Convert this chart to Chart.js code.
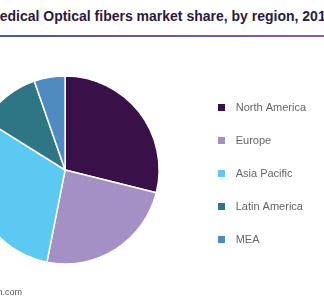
<!DOCTYPE html>
<html>
<head>
<meta charset="utf-8">
<script src="https://cdn.jsdelivr.net/npm/chart.js@4"></script>
<style>
  html, body { margin: 0; padding: 0; background: #fff; }
  body { width: 324px; height: 300px; position: relative; overflow: hidden; font-family: Arial, "Liberation Sans", sans-serif; }
  #title { position: absolute; left: -12px; top: 8px; white-space: nowrap; font-weight: bold; font-size: 14px; color: #2a1b3d; }
  #rule { position: absolute; left: 0; top: 35px; width: 324px; height: 2px; background: linear-gradient(to right, #4a56a6, #8a5ca9); }
  #wrap { position: absolute; left: -60px; top: 40px; width: 376px; height: 260px; }
  #source { position: absolute; right: 302px; top: 287px; white-space: nowrap; font-size: 9px; color: #555; }
</style>
</head>
<body>
<div id="title">Medical Optical fibers market share, by region, 2018</div>
<div id="rule"></div>
<div id="wrap"><canvas id="chart"></canvas></div>
<div id="source">Source: www.grandviewresearch.com</div>
<script>
// regions and share (%)
const regions = ["North America", "Europe", "Asia Pacific", "Latin America", "MEA"];
const shares = [28.9, 24.2, 30.8, 10.8, 5.3];
const colors = ["#3a1049", "#a590c5", "#5bc9f2", "#2e7585", "#4f8bc0"];

// small square swatch used as legend marker
function swatch(color) {
  const c = document.createElement("canvas");
  c.width = 7;
  c.height = 7;
  const g = c.getContext("2d");
  g.fillStyle = color;
  g.fillRect(0, 0, 7, 7);
  return c;
}

new Chart(document.getElementById("chart"), {
  type: "pie",
  data: {
    labels: regions,
    datasets: [{
      data: shares,
      backgroundColor: colors,
      borderColor: "#ffffff",
      borderWidth: 1.5,
      radius: 94
    }]
  },
  options: {
    responsive: true,
    maintainAspectRatio: false,
    animation: false,
    layout: { padding: 0 },
    plugins: {
      tooltip: { enabled: false },
      title: { display: false },
      legend: {
        position: "right",
        align: "center",
        // empty title just pushes the items down a few px
        title: { display: true, text: " ", padding: 0, font: { size: 7, lineHeight: 1 } },
        labels: {
          usePointStyle: true,
          pointStyleWidth: 18,
          boxHeight: 7,
          padding: 22,
          color: "#333",
          font: { family: "Arial, 'Liberation Sans', sans-serif", size: 11 },
          generateLabels: (chart) => regions.map((r, i) => ({
            text: r,
            fillStyle: colors[i],
            strokeStyle: colors[i],
            lineWidth: 0,
            pointStyle: swatch(colors[i]),
            hidden: false,
            index: i
          }))
        }
      }
    }
  }
});
</script>
</body>
</html>
